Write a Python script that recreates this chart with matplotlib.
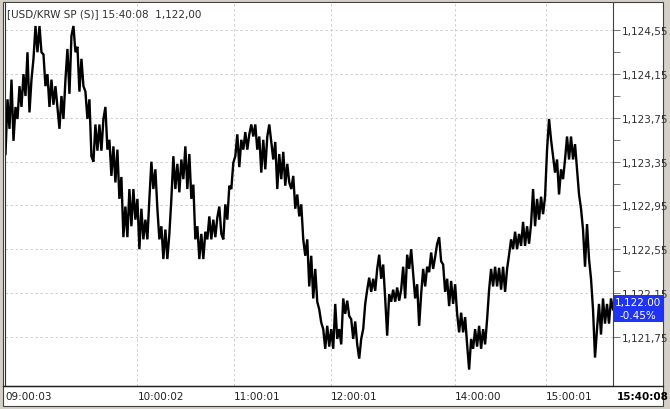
import matplotlib.pyplot as plt  # Moduł do rysowania wykresów.
from matplotlib.patches import Rectangle  # Prostokąty: tło okna i niebieska etykieta ceny.
from matplotlib.lines import Line2D  # Linie rysowane bezpośrednio na figurze.

# Kolejne notowania USD/KRW (tick po ticku).
ceny = [
    1123.42, 1123.92, 1123.65, 1124.10, 1123.54, 1123.85, 1123.74, 1124.04, 1123.85, 1124.15,
    1123.95, 1124.35, 1123.80, 1124.10, 1124.29, 1124.59, 1124.35, 1124.59, 1124.35, 1124.33,
    1124.04, 1124.15, 1123.85, 1124.10, 1123.87, 1124.04, 1123.85, 1123.65, 1123.95, 1123.74,
    1124.10, 1124.38, 1123.97, 1124.50, 1124.59, 1124.35, 1124.40, 1123.99, 1124.29, 1124.04,
    1123.99, 1123.74, 1123.92, 1123.40, 1123.35, 1123.69, 1123.45, 1123.69, 1123.45, 1123.74,
    1123.85, 1123.46, 1123.55, 1123.22, 1123.49, 1123.16, 1123.46, 1123.01, 1123.21, 1122.66,
    1122.94, 1122.66, 1123.10, 1122.76, 1123.10, 1122.82, 1123.01, 1122.55, 1122.92, 1122.64,
    1122.82, 1122.64, 1123.01, 1123.35, 1123.10, 1123.28, 1122.92, 1122.64, 1122.76, 1122.46,
    1122.73, 1122.46, 1122.69, 1123.01, 1123.40, 1123.10, 1123.33, 1123.07, 1123.37, 1123.19,
    1123.49, 1123.10, 1123.42, 1123.01, 1123.14, 1122.64, 1122.76, 1122.46, 1122.69, 1122.46,
    1122.71, 1122.64, 1122.85, 1122.64, 1122.82, 1122.66, 1122.84, 1122.94, 1122.69, 1122.64,
    1122.96, 1122.82, 1123.13, 1123.10, 1123.34, 1123.40, 1123.60, 1123.30, 1123.55, 1123.46,
    1123.62, 1123.46, 1123.60, 1123.69, 1123.58, 1123.69, 1123.46, 1123.58, 1123.25, 1123.55,
    1123.28, 1123.58, 1123.69, 1123.53, 1123.37, 1123.53, 1123.10, 1123.42, 1123.19, 1123.44,
    1123.13, 1123.33, 1123.16, 1123.10, 1123.22, 1122.92, 1123.05, 1122.85, 1122.96, 1122.64,
    1122.49, 1122.64, 1122.21, 1122.49, 1122.10, 1122.37, 1122.07, 1122.00, 1121.88, 1121.82,
    1121.64, 1121.85, 1121.66, 1121.82, 1121.64, 1122.05, 1121.73, 1121.82, 1121.68, 1122.10,
    1121.96, 1122.08, 1121.94, 1121.91, 1121.73, 1121.89, 1121.68, 1121.55, 1121.73, 1121.82,
    1122.05, 1122.18, 1122.29, 1122.16, 1122.28, 1122.17, 1122.37, 1122.50, 1122.28, 1122.41,
    1122.10, 1121.76, 1122.14, 1122.07, 1122.18, 1122.07, 1122.20, 1122.08, 1122.18, 1122.39,
    1122.10, 1122.50, 1122.37, 1122.55, 1122.32, 1122.10, 1122.23, 1121.85, 1122.14, 1122.37,
    1122.21, 1122.39, 1122.34, 1122.52, 1122.37, 1122.48, 1122.60, 1122.66, 1122.44, 1122.41,
    1122.16, 1122.28, 1122.03, 1122.26, 1122.05, 1122.23, 1121.96, 1121.79, 1121.97, 1121.79,
    1121.93, 1121.68, 1121.45, 1121.73, 1121.64, 1121.82, 1121.66, 1121.85, 1121.64, 1121.82,
    1121.68, 1121.91, 1122.18, 1122.37, 1122.21, 1122.39, 1122.21, 1122.38, 1122.18, 1122.39,
    1122.16, 1122.37, 1122.50, 1122.64, 1122.55, 1122.71, 1122.55, 1122.69, 1122.58, 1122.80,
    1122.58, 1122.76, 1122.60, 1122.78, 1123.10, 1122.76, 1123.01, 1122.82, 1123.03, 1122.87,
    1123.03, 1123.46, 1123.74, 1123.55, 1123.40, 1123.25, 1123.37, 1123.05, 1123.28, 1123.19,
    1123.37, 1123.58, 1123.37, 1123.58, 1123.37, 1123.51, 1123.28, 1123.05, 1122.92, 1122.73,
    1122.39, 1122.78, 1122.46, 1122.28, 1122.00, 1121.56, 1121.82, 1122.05, 1121.77, 1122.10,
    1121.87, 1122.05, 1121.87, 1122.10, 1122.00,
]

# Numery ticków, przy których platforma podpisała czas, i same podpisy.
ticki_czasu = [0, 66, 114.5, 163, 225, 270.5]
etykiety_czasu = ["09:00:03", "10:00:02", "11:00:01", "12:00:01", "14:00:00", "15:00:01"]
czas_ostatni = "15:40:08"

# Podziałka ceny po prawej stronie.
ceny_osi = [1121.75, 1122.15, 1122.55, 1122.95, 1123.35, 1123.75, 1124.15, 1124.55]
ceny_osi_pomocnicze = [1121.95, 1122.35, 1122.75, 1123.15, 1123.55, 1123.95, 1124.35]

tytul = "[USD/KRW SP (S)] 15:40:08  1,122,00"
ostatnia_cena = "1,122.00"
zmiana = "-0.45%"

W, H = 670, 410  # Rozmiar obrazka w pikselach.

fig = plt.figure(figsize=(W / 100, H / 100), dpi=100, facecolor="#d4d0c8")  # Szare tło okna.
fig.patches.append(Rectangle((3 / W, 3 / H), 660 / W, 404 / H, transform=fig.transFigure,
                             facecolor="white", edgecolor="#404040", lw=0.8, zorder=-1))  # Białe pole wykresu.

ax = fig.add_axes([4.5 / W, 23 / H, (613 - 4.5) / W, (387 - 4) / H])  # Obszar z linią kursu.
ax.plot(range(len(ceny)), ceny, color="black", lw=1.7, solid_joinstyle="miter")  # Linia kursu.

ax.set_xlim(-0.5, len(ceny) - 1)  # Zakres osi X w numerach ticków.
ax.set_ylim(1121.30, 1124.80)  # Zakres cen.

ax.set_xticks(ticki_czasu)  # Pionowe linie siatki w miejscach podpisów czasu.
ax.set_xticklabels(etykiety_czasu, ha="left", fontsize=7.5, color="#202020")  # Podpisy wyrównane do lewej.
ax.tick_params(axis="x", length=0, pad=3.5)  # Bez kresek na osi X.

ax.yaxis.tick_right()  # Oś cen po prawej stronie.
ax.set_yticks(ceny_osi)  # Główne poziomy cen.
ax.set_yticklabels([f"{v:,.2f}".replace(".", ",") for v in ceny_osi], fontsize=7.5, color="#303030")
ax.set_yticks(ceny_osi_pomocnicze, minor=True)  # Krótkie kreski pośrednie.
ax.tick_params(axis="y", which="both", length=5, width=0.6, color="#606060", pad=1.5)

ax.grid(True, color="#c8c8c8", ls=(0, (3, 3)), lw=0.6)  # Przerywana jasnoszara siatka.
ax.spines["top"].set_visible(False)  # Bez górnej krawędzi.
ax.spines["left"].set_color("#303030")  # Lewa krawędź.
ax.spines["right"].set_color("#404040")  # Prawa krawędź oddzielająca oś cen.
ax.spines["bottom"].set_color("#202020")  # Dolna krawędź.

fig.add_artist(Line2D([3 / W, 663 / W], [23 / H, 23 / H], color="#202020", lw=1))  # Linia nad podpisami czasu.

fig.text(7 / W, 1 - 14 / H, tytul, fontsize=7.5, color="#303030", va="center", ha="left")  # Opis instrumentu.
fig.text(617 / W, 1 - 397 / H, czas_ostatni, fontsize=7.5, fontweight="bold", va="center", ha="left")  # Czas ostatniego ticku.

fig.patches.append(Rectangle((613 / W, 1 - 323 / H), 50 / W, 27 / H, transform=fig.transFigure,
                             facecolor="#1f33f5", edgecolor="none", zorder=2))  # Niebieska etykieta ostatniej ceny.
fig.text(638 / W, 1 - 303 / H, ostatnia_cena, fontsize=7.5, color="white", ha="center", va="center", zorder=3)
fig.text(638 / W, 1 - 316 / H, zmiana, fontsize=7.5, color="white", ha="center", va="center", zorder=3)

plt.savefig("out.png", dpi=100, facecolor=fig.get_facecolor())  # Zapis obrazka.
